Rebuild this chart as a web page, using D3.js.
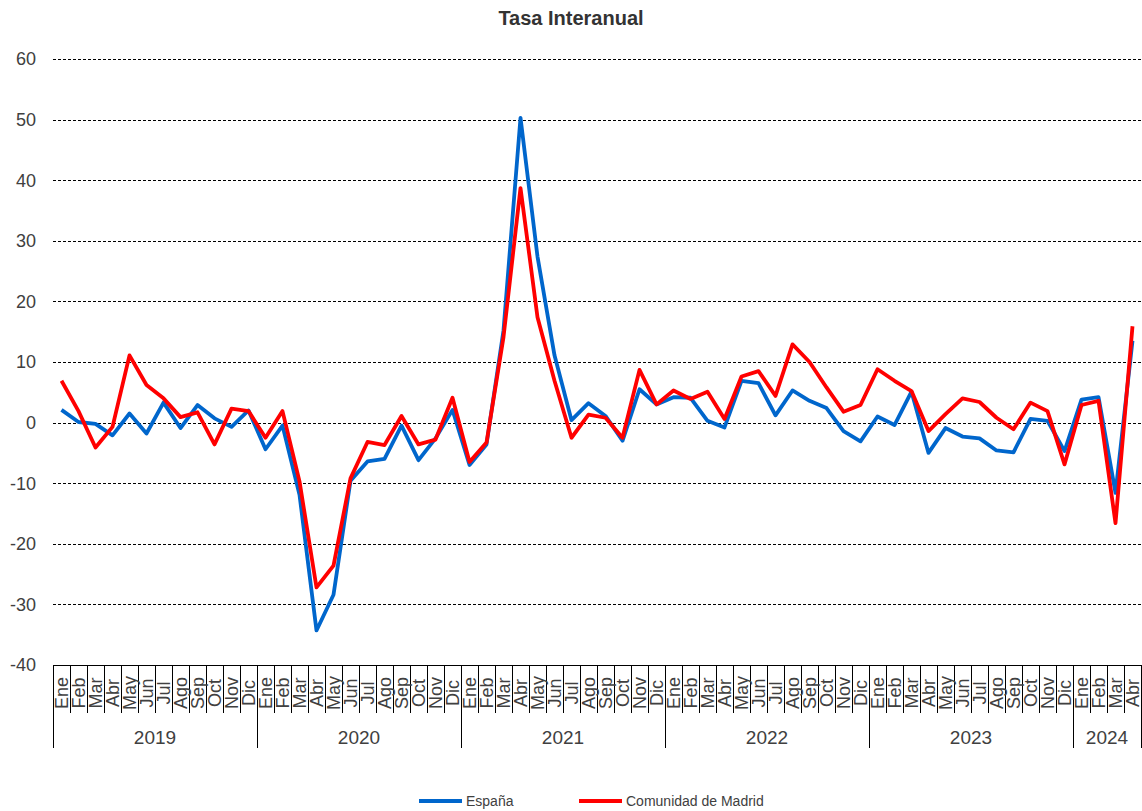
<!DOCTYPE html>
<html>
<head>
<meta charset="utf-8">
<script src="https://cdn.jsdelivr.net/npm/d3@7"></script>
<style>
  body { margin: 0; background: #fff; }
  text { font-family: "Liberation Sans", Arial, sans-serif; fill: #404040; }
</style>
</head>
<body>
<svg width="1142" height="811"></svg>
<script>
var months = ["Ene","Feb","Mar","Abr","May","Jun","Jul","Ago","Sep","Oct","Nov","Dic"];
var years = ["2019","2020","2021","2022","2023","2024"];
var monthsPerYear = [12, 12, 12, 12, 12, 4];
var yTicks = [-40, -30, -20, -10, 0, 10, 20, 30, 40, 50, 60];

var espana = [2.1, 0.1, -0.2, -2.1, 1.5, -1.8, 3.3, -0.9, 2.9, 0.7, -0.7, 2.0,
  -4.4, -0.5, -11.9, -34.3, -28.4, -9.6, -6.4, -6.0, -0.5, -6.2, -2.6, 2.1,
  -7.0, -3.6, 15.2, 50.3, 27.4, 11.1, 0.4, 3.2, 1.1, -3.0, 5.5, 3.0,
  4.2, 4.1, 0.3, -0.8, 6.9, 6.5, 1.2, 5.3, 3.6, 2.4, -1.4, -3.1,
  1.0, -0.4, 5.1, -5.0, -0.9, -2.3, -2.6, -4.6, -4.9, 0.6, 0.3, -4.7,
  3.8, 4.2, -11.6, 13.5];

var madrid = [6.9, 1.9, -4.1, -0.7, 11.1, 6.2, 4.0, 0.9, 1.7, -3.6, 2.3, 1.9,
  -2.5, 1.9, -9.7, -27.2, -23.6, -9.2, -3.2, -3.7, 1.1, -3.6, -2.8, 4.1,
  -6.5, -3.3, 14.1, 38.7, 17.4, 6.9, -2.5, 1.3, 0.8, -2.5, 8.7, 3.0,
  5.3, 3.9, 5.1, 0.6, 7.6, 8.5, 4.4, 12.9, 10.0, 5.8, 1.8, 2.9,
  8.8, 6.9, 5.2, -1.4, 1.4, 4.0, 3.4, 0.8, -1.1, 3.3, 1.9, -6.9,
  2.9, 3.6, -16.6, 15.9];

var svg = d3.select("svg");
var plotLeft = 53, plotRight = 1141, plotTop = 59, plotBottom = 665;

// build the category list: one entry per month
var cats = [];
years.forEach(function(y, yi) {
  for (var m = 0; m < monthsPerYear[yi]; m++) {
    cats.push({ key: y + "-" + m, month: months[m], year: y });
  }
});

var xScale = d3.scaleBand().domain(cats.map(function(d) { return d.key; })).range([plotLeft, plotRight]).padding(0);
var yScale = d3.scaleLinear().domain([-40, 60]).range([plotBottom, plotTop]);
var bw = xScale.bandwidth();

svg.append("text")
  .attr("x", 571)
  .attr("y", 25)
  .attr("text-anchor", "middle")
  .style("font-size", "20px")
  .style("font-weight", "bold")
  .style("fill", "#333")
  .text("Tasa Interanual");

// gridlines
svg.append("g")
  .selectAll("line")
  .data(yTicks.filter(function(d) { return d > -40; }))
  .enter()
  .append("line")
  .attr("x1", plotLeft)
  .attr("x2", plotRight)
  .attr("y1", function(d) { return Math.round(yScale(d)) + 0.5; })
  .attr("y2", function(d) { return Math.round(yScale(d)) + 0.5; })
  .attr("stroke", "#000")
  .attr("stroke-width", 1)
  .attr("stroke-dasharray", "3,2");

// y tick labels
svg.append("g")
  .selectAll("text")
  .data(yTicks)
  .enter()
  .append("text")
  .attr("x", 36)
  .attr("y", function(d) { return yScale(d); })
  .attr("dy", "0.35em")
  .attr("text-anchor", "end")
  .style("font-size", "18px")
  .text(function(d) { return d; });

// category axis
var axis = svg.append("g");
axis.append("line")
  .attr("x1", plotLeft).attr("x2", plotRight)
  .attr("y1", plotBottom + 0.5).attr("y2", plotBottom + 0.5)
  .attr("stroke", "#000").attr("stroke-width", 1);

axis.selectAll(".mtick")
  .data(cats.concat([{ end: true }]))
  .enter()
  .append("line")
  .attr("class", "mtick")
  .attr("x1", function(d) { return Math.round(d.end ? plotRight : xScale(d.key)) + 0.5; })
  .attr("x2", function(d) { return Math.round(d.end ? plotRight : xScale(d.key)) + 0.5; })
  .attr("y1", plotBottom)
  .attr("y2", function(d) { return (d.end || d.month === "Ene") ? 748 : 713; })
  .attr("stroke", "#000")
  .attr("stroke-width", 1);

axis.selectAll(".mlabel")
  .data(cats)
  .enter()
  .append("text")
  .attr("class", "mlabel")
  .attr("transform", function(d) { return "translate(" + (xScale(d.key) + bw / 2) + ",693) rotate(-90)"; })
  .attr("dy", "0.36em")
  .attr("text-anchor", "middle")
  .style("font-size", "18px")
  .text(function(d) { return d.month; });

var yearData = years.map(function(y) {
  var c = cats.filter(function(d) { return d.year === y; });
  return { year: y, x0: xScale(c[0].key), x1: xScale(c[c.length - 1].key) + bw };
});

axis.selectAll(".ylabel")
  .data(yearData)
  .enter()
  .append("text")
  .attr("class", "ylabel")
  .attr("x", function(d) { return (d.x0 + d.x1) / 2; })
  .attr("y", 744)
  .attr("text-anchor", "middle")
  .style("font-size", "19px")
  .text(function(d) { return d.year; });

// lines
var series = [
  { name: "España", values: espana, color: "#0066cc" },
  { name: "Comunidad de Madrid", values: madrid, color: "#ff0000" }
];

var line = d3.line()
  .x(function(d, i) { return xScale(cats[i].key) + bw / 2; })
  .y(function(d) { return yScale(d); });

svg.append("g")
  .selectAll("path")
  .data(series)
  .enter()
  .append("path")
  .attr("d", function(d) { return line(d.values); })
  .attr("fill", "none")
  .attr("stroke", function(d) { return d.color; })
  .attr("stroke-width", 3.8)
  .attr("stroke-linejoin", "round");

// legend
var legendX = [419, 579];
var lg = svg.append("g")
  .selectAll("g")
  .data(series)
  .enter()
  .append("g")
  .attr("transform", function(d, i) { return "translate(" + legendX[i] + ",801)"; });

lg.append("line")
  .attr("x1", 0).attr("x2", 43)
  .attr("stroke", function(d) { return d.color; })
  .attr("stroke-width", 3.8);

lg.append("text")
  .attr("x", 47)
  .attr("dy", "0.35em")
  .style("font-size", "14px")
  .text(function(d) { return d.name; });
</script>
</body>
</html>
